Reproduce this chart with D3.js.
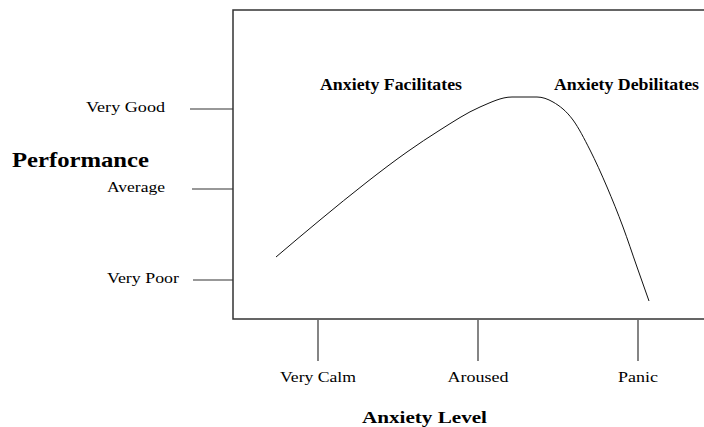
<!DOCTYPE html>
<html><head><meta charset="utf-8">
<script src="https://cdn.jsdelivr.net/npm/d3@7"></script>
<style>body{margin:0;background:#fff}svg{display:block}</style>
</head><body>
<script>
// Anxiety level (x) in arbitrary units, performance (y) in arbitrary units
const xTickLabels = ["Very Calm", "Aroused", "Panic"];
const xTickValues = [85, 245, 405];
const yTickLabels = ["Very Poor", "Average", "Very Good"];
const yTickValues = [39, 130, 210];
const curveX = [43, 87, 134, 174, 207, 247, 279, 292, 304, 320, 340, 357, 374, 390, 404, 416];
const curveY = [62, 99, 137, 167, 189, 212, 222, 222, 222, 217, 199, 169, 132, 92, 52, 18];
const annotations = ["Anxiety Facilitates", "Anxiety Debilitates"];

const W = 704, H = 427;
const box = {left: 233, top: 10, right: 706, bottom: 319};
const svg = d3.select("body").append("svg").attr("width", W).attr("height", H);
const font = "'Liberation Serif', 'Times New Roman', serif";

const x = d3.scaleLinear().domain([0, box.right - box.left]).range([box.left, box.right]);
const y = d3.scaleLinear().domain([0, box.bottom - box.top]).range([box.bottom, box.top]);

// frame
svg.append("rect").attr("x", box.left).attr("y", box.top)
  .attr("width", box.right - box.left).attr("height", box.bottom - box.top)
  .attr("fill", "none").attr("stroke", "#333").attr("stroke-width", 1.5);

// y ticks
const yStart = [193, 192, 190];
const yLabelRight = [179, 165, 165];
const yLabelWidth = [72, 58, 79];
yTickValues.forEach((v, i) => {
  svg.append("line").attr("x1", yStart[i]).attr("x2", box.left)
    .attr("y1", y(v)).attr("y2", y(v)).attr("stroke", "#333").attr("stroke-width", 1.2);
  svg.append("text").attr("x", yLabelRight[i]).attr("y", y(v) + 3)
    .attr("text-anchor", "end").attr("font-family", font).attr("font-size", 15)
    .attr("textLength", yLabelWidth[i]).attr("lengthAdjust", "spacingAndGlyphs")
    .text(yTickLabels[i]);
});

// x ticks
const xLabelWidth = [76, 61, 40];
xTickValues.forEach((v, i) => {
  svg.append("line").attr("x1", x(v)).attr("x2", x(v))
    .attr("y1", box.bottom + 1).attr("y2", 361).attr("stroke", "#333").attr("stroke-width", 1.2);
  svg.append("text").attr("x", x(v)).attr("y", 382)
    .attr("text-anchor", "middle").attr("font-family", font).attr("font-size", 15)
    .attr("textLength", xLabelWidth[i]).attr("lengthAdjust", "spacingAndGlyphs")
    .text(xTickLabels[i]);
});

// curve
const pts = curveX.map((d, i) => [d, curveY[i]]);
const line = d3.line().x(d => x(d[0])).y(d => y(d[1])).curve(d3.curveMonotoneX);
svg.append("path").datum(pts).attr("d", line)
  .attr("fill", "none").attr("stroke", "#111").attr("stroke-width", 1);

// annotations
svg.append("text").attr("x", 320).attr("y", 90).attr("font-family", font)
  .attr("font-weight", "bold").attr("font-size", 16)
  .attr("textLength", 142).attr("lengthAdjust", "spacingAndGlyphs").text(annotations[0]);
svg.append("text").attr("x", 554).attr("y", 90).attr("font-family", font)
  .attr("font-weight", "bold").attr("font-size", 16)
  .attr("textLength", 145).attr("lengthAdjust", "spacingAndGlyphs").text(annotations[1]);

// axis titles
svg.append("text").attr("x", 12).attr("y", 167).attr("font-family", font)
  .attr("font-weight", "bold").attr("font-size", 21)
  .attr("textLength", 137).attr("lengthAdjust", "spacingAndGlyphs").text("Performance");
svg.append("text").attr("x", 362).attr("y", 423).attr("font-family", font)
  .attr("font-weight", "bold").attr("font-size", 17)
  .attr("textLength", 125).attr("lengthAdjust", "spacingAndGlyphs").text("Anxiety Level");
</script>
</body></html>
